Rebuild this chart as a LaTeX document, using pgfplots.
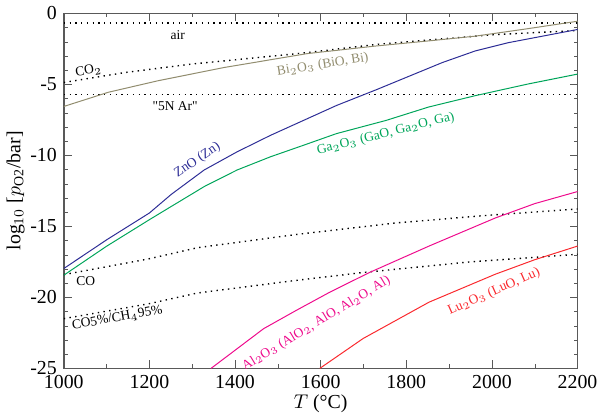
\documentclass[border=0pt]{standalone}
\usepackage{pgfplots}
\pgfplotsset{compat=1.18}
\usepackage{fontspec}
\setmainfont{Liberation Serif}
\definecolor{biC}{RGB}{145,140,110}
\definecolor{znC}{RGB}{45,45,150}
\definecolor{gaC}{RGB}{0,165,90}
\definecolor{alC}{RGB}{238,10,140}
\definecolor{luC}{RGB}{250,40,45}
\begin{document}
\begin{tikzpicture}
\begin{axis}[
  scale only axis, width=259pt, height=179pt,
  xmin=1000, xmax=2200, ymin=-25, ymax=0,
  xtick={1000,1200,...,2200}, ytick={-25,-20,...,0},
  minor x tick num=1, minor y tick num=4,
  tick align=inside, major tick length=4pt, minor tick length=2pt,
  axis line style={gray!70!black, line width=0.8pt},
  tick style={gray!70!black},
  /pgf/number format/assume math mode=true,
  /pgf/number format/1000 sep={},
  ticklabel style={font=\fontsize{10}{12}\selectfont},
  label style={font=\fontsize{10}{12}\selectfont},
  xlabel={$T$ (°C)}, ylabel={log$_{10}$ [$p_{\mathrm{O2}}$/bar]},
  xlabel style={yshift=4pt}, ylabel style={yshift=-4pt},
  every axis plot/.append style={line width=0.5pt},
  dots/.style={black, line width=0.7pt, dash pattern=on 0.7pt off 2.2pt},
]
% atmospheres (dotted)
\addplot[dots] coordinates {(1000,-0.68) (2200,-0.68)};
\addplot[dots] coordinates {(1000,-5.73) (2200,-5.73)};
\addplot[dots] coordinates {(1000,-4.87) (1143,-4.17) (1297,-3.58) (1452,-3.12) (1568,-2.77) (1730,-2.19) (1884,-1.8) (2008,-1.5) (2200,-1.21)};
\addplot[dots] coordinates {(1000,-18.4) (1197,-17.3) (1313,-16.5) (1544,-15.57) (1776,-14.76) (2000,-14.2) (2200,-13.78)};
\addplot[dots] coordinates {(1000,-21.5) (1197,-20.46) (1313,-19.69) (1544,-18.8) (1699,-18.25) (1950,-17.5) (2200,-16.97)};
% oxides
\addplot[biC] coordinates {(1000,-6.56) (1104,-5.56) (1220,-4.75) (1374,-3.82) (1568,-2.84) (1730,-2.3) (1850,-1.95) (1961,-1.61) (2080,-1.1) (2200,-0.56)};
\addplot[znC] coordinates {(1000,-17.97) (1100,-15.95) (1200,-14.06) (1251,-12.75) (1328,-11.03) (1405,-9.75) (1483,-8.59) (1560,-7.54) (1637,-6.49) (1730,-5.38) (1884,-3.47) (1961,-2.65) (2038,-2.07) (2200,-1.14)};
\addplot[gaC] coordinates {(1000,-18.44) (1100,-16.4) (1200,-14.53) (1251,-13.6) (1328,-12.2) (1405,-11.03) (1483,-10.1) (1560,-9.29) (1637,-8.47) (1753,-7.54) (1852,-6.6) (1961,-5.8) (2084,-4.98) (2200,-4.28)};
\addplot[alC] coordinates {(1344,-25.0) (1467,-22.2) (1544,-20.9) (1621,-19.64) (1714,-18.25) (1853,-16.39) (2008,-14.41) (2100,-13.4) (2200,-12.55)};
\addplot[luC] coordinates {(1598,-25.0) (1699,-22.9) (1853,-20.34) (2008,-18.37) (2100,-17.35) (2200,-16.39)};
% labels
\begin{scope}[every node/.style={font=\fontsize{6.8}{8}\selectfont, inner sep=0pt}]
\node at (axis cs:1266,-1.54) {air};
\node[rotate=9] at (axis cs:1058,-4.05) {CO$_2$};
\node[biC, rotate=9] at (axis cs:1605,-3.63) {Bi$_2$O$_3$ (BiO, Bi)};
\node at (axis cs:1260,-6.5) {\textquotedbl5N Ar\textquotedbl};
\node[znC, rotate=34] at (axis cs:1312,-10.35) {ZnO (Zn)};
\node[gaC, rotate=14] at (axis cs:1752,-8.5) {Ga$_2$O$_3$ (GaO, Ga$_2$O, Ga)};
\node at (axis cs:1051,-18.85) {CO};
\node[rotate=10] at (axis cs:1125,-21.45) {CO5\%/CH$_4$95\%};
\node[alC, rotate=31] at (axis cs:1590,-21.85) {Al$_2$O$_3$ (AlO$_2$, AlO, Al$_2$O, Al)};
\node[luC, rotate=24] at (axis cs:2005,-19.6) {Lu$_2$O$_3$ (LuO, Lu)};
\end{scope}
\end{axis}
\end{tikzpicture}
\end{document}
